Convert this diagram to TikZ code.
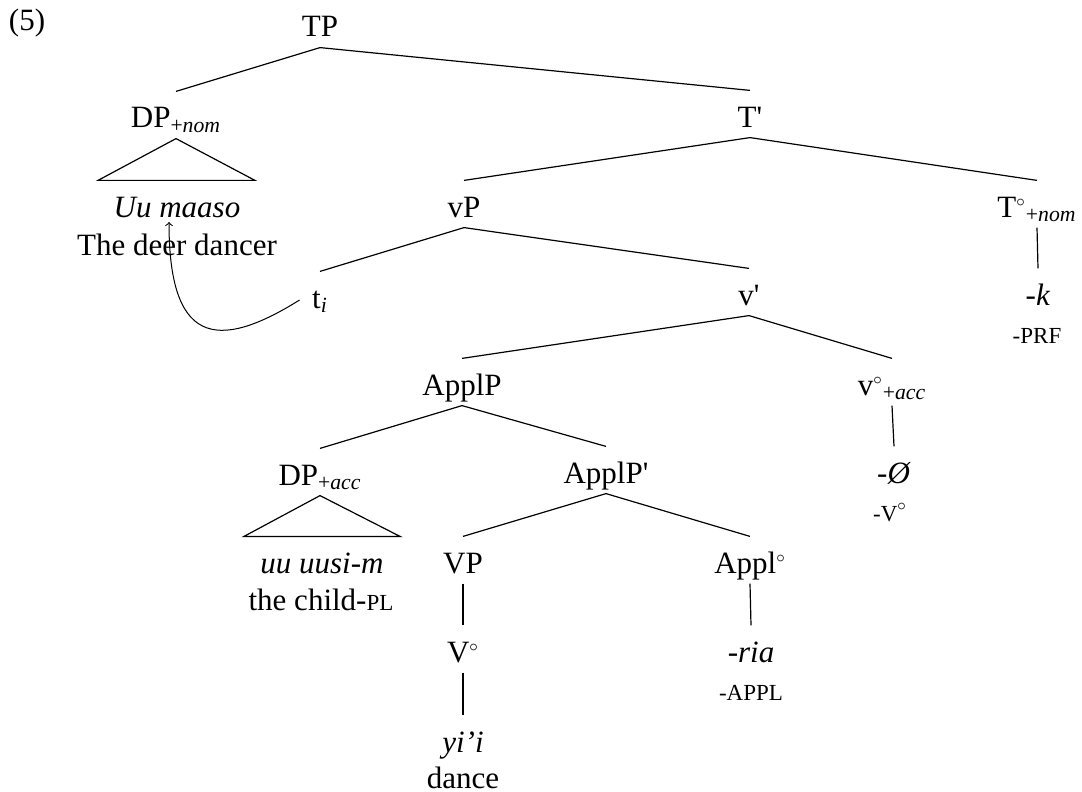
\documentclass[tikz,border=0pt]{standalone}
\usepackage{fontspec}
\setmainfont{Liberation Serif}
\usepackage{tikz}

\newcommand{\glosscap}[1]{{\fontsize{11.5}{12}\selectfont #1}}
\newcommand{\headdeg}{$^{\scriptscriptstyle\circ}$}

\begin{document}
\begin{tikzpicture}[x=0.5pt, y=-0.5pt, line width=0.6pt,
        font=\fontsize{15.5}{19}\selectfont,
        cat/.style={anchor=base, inner sep=0pt, text height=18pt, text depth=5pt}]
        \useasboundingbox (0,0) rectangle (1082,792);

        \node[cat] (ex) at (27,31) {(5)};

        \node[cat] (TP) at (320,37) {TP};
        \node[cat] (DPnom) at (176,128) {DP\textsubscript{+\textit{nom}}};
        \node[cat] (uumaaso) at (177,217) {\textit{Uu maaso}};
        \node[cat] (deerdancer) at (177,255) {The deer dancer};
        \node[cat] (Tbar) at (750,127) {T\textquotesingle};

        \node[cat] (vP) at (464,217) {vP};
        \node[cat] (Tnull) at (1037,217) {T\headdeg\textsubscript{+\textit{nom}}};
        \node[cat] (suffk) at (1038,305) {-\textit{k}};
        \node[cat] (prf) at (1037,343) {\glosscap{-PRF}};

        \node[cat] (ti) at (320,308) {t\textsubscript{\textit{i}}};
        \node[cat] (vbar) at (749,305) {v\textquotesingle};
        \coordinate (trace) at (169,222);

        \node[cat] (ApplP) at (462,395) {ApplP};
        \node[cat] (vnull) at (892,395) {v\headdeg\textsubscript{+\textit{acc}}};
        \node[cat] (nullsuff) at (894,483) {\textit{-Ø}};
        \node[cat] (vgloss) at (890,521) {\glosscap{-V}\headdeg};

        \node[cat] (DPacc) at (320,485) {DP\textsubscript{+\textit{acc}}};
        \node[cat] (uuusim) at (322,573) {\textit{uu uusi-m}};
        \node[cat] (childpl) at (321,610) {the child-\glosscap{PL}};
        \node[cat] (ApplPbar) at (606,483) {ApplP\textquotesingle};

        \node[cat] (VP) at (463,573) {VP};
        \node[cat] (Vnull) at (463,662) {V\headdeg};
        \node[cat] (yii) at (463,752) {\textit{yi’i}};
        \node[cat] (dance) at (463,788) {dance};
        \node[cat] (Applnull) at (750,573) {Appl\headdeg};
        \node[cat] (ria) at (751,662) {\textit{-ria}};
        \node[cat] (appl) at (751,700) {\glosscap{-APPL}};

        \draw (TP.south) -- (DPnom.north);
        \draw (TP.south) -- (Tbar.north);
        \draw (DPnom.south) -- ([xshift=-39.5pt]uumaaso.north) -- ([xshift=39pt]uumaaso.north) -- cycle;
        \draw (Tbar.south) -- (vP.north);
        \draw (Tbar.south) -- (Tnull.north);
        \draw (Tnull.south) -- (suffk.north);
        \draw (vP.south) -- (ti.north);
        \draw (vP.south) -- (vbar.north);
        \draw (vbar.south) -- (ApplP.north);
        \draw (vbar.south) -- (vnull.north);
        \draw (vnull.south) -- (nullsuff.north);
        \draw (ApplP.south) -- (DPacc.north);
        \draw (ApplP.south) -- (ApplPbar.north);
        \draw (DPacc.south) -- ([xshift=-39pt]uuusim.north) -- ([xshift=39pt]uuusim.north) -- cycle;
        \draw (ApplPbar.south) -- (VP.north);
        \draw (ApplPbar.south) -- (Applnull.north);
        \draw (VP.south) -- (Vnull.north);
        \draw (Vnull.south) -- (yii.north);
        \draw (Applnull.south) -- (ria.north);

        \draw[->, line width=0.5pt] ([xshift=-6pt, yshift=-2.5pt]ti.west) to[out=212, in=-90, out distance=50pt, in distance=60pt] (trace);
    \end{tikzpicture}
\end{document}
